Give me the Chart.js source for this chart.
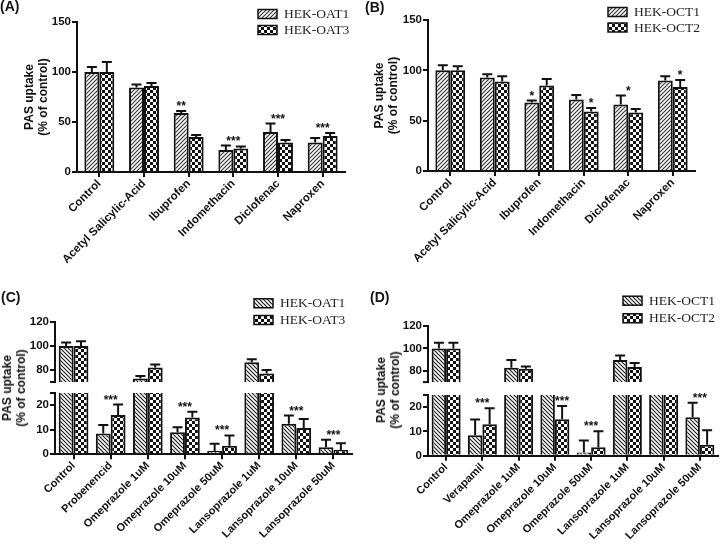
<!DOCTYPE html>
<html>
<head>
<meta charset="utf-8">
<script src="https://cdn.jsdelivr.net/npm/chart.js@4.4.0/dist/chart.umd.min.js"></script>
<style>
html, body { margin: 0; padding: 0; background: #fff; }
#wrap { position: relative; width: 720px; height: 544px; overflow: hidden; font-family: "Liberation Sans", Arial, sans-serif; color: #111; }
#wrap canvas { position: absolute; }
.panel { position: absolute; font-weight: bold; font-size: 14px; line-height: 14px; }
.ytitle { position: absolute; transform: translate(-50%, -50%) rotate(-90deg); font-weight: bold; font-size: 12px; line-height: 14px; text-align: center; white-space: nowrap; }
</style>
</head>
<body>
<div id="wrap">
  <canvas id="chartA" width="360" height="272" style="left:0;top:0"></canvas>
  <canvas id="chartB" width="360" height="272" style="left:360px;top:0"></canvas>
  <canvas id="chartClow" width="360" height="159" style="left:0;top:385px"></canvas>
  <canvas id="chartCup" width="360" height="110" style="left:0;top:280px"></canvas>
  <canvas id="chartDlow" width="360" height="159" style="left:360px;top:385px"></canvas>
  <canvas id="chartDup" width="360" height="110" style="left:360px;top:280px"></canvas>
  <div class="panel" style="left:0;top:-1px">(A)</div>
  <div class="panel" style="left:365px;top:0">(B)</div>
  <div class="panel" style="left:1px;top:290px">(C)</div>
  <div class="panel" style="left:370px;top:290px">(D)</div>
  <div class="ytitle" style="left:14px;top:388px">PAS uptake<br>(% of control)</div>
  <div class="ytitle" style="left:388px;top:390px">PAS uptake<br>(% of control)</div>
</div>
<script>
// ---- data ----
var catsA = ['Control', 'Acetyl Salicylic-Acid', 'Ibuprofen', 'Indomethacin', 'Diclofenac', 'Naproxen'];
var oat1A = [100, 84.5, 59, 22, 40, 29.5];
var oat1ErrA = [5, 3, 2, 4.5, 8.5, 4.5];
var oat3A = [100, 86, 35, 23.5, 29.5, 36];
var oat3ErrA = [10, 3, 2, 2, 2.5, 3];
var sigA = ['', '', '**', '***', '***', '***'];
var sigOverA = [-1, -1, 0, -1, -1, -1];

var catsB = ['Control', 'Acetyl Salicylic-Acid', 'Ibuprofen', 'Indomethacin', 'Diclofenac', 'Naproxen'];
var oct1B = [100, 93, 68, 71, 66, 90];
var oct1ErrB = [5, 3, 2, 4.5, 9, 4];
var oct2B = [100, 89, 85, 59, 58, 83.5];
var oct2ErrB = [4, 5, 6.5, 3.5, 3.5, 7];
var sigB = ['', '', '*', '*', '*', '*'];
var sigOverB = [-1, -1, 0, 1, -1, 1];

var catsC = ['Control', 'Probenencid', 'Omeprazole 1uM', 'Omeprazole 10uM', 'Omeprazole 50uM', 'Lansoprazole 1uM', 'Lansoprazole 10uM', 'Lansoprazole 50uM'];
var oat1C = [100, 8.5, 73, 9, 1.3, 86.5, 12.5, 2.9];
var oat1ErrC = [3, 3.5, 2, 2, 3, 2.5, 3.3, 3];
var oat3C = [100, 16, 82, 15, 3.5, 77, 10.7, 1.8];
var oat3ErrC = [4, 4.3, 2.5, 2.4, 4.2, 3, 3.7, 2.7];
var sigC = ['', '***', '', '***', '***', '', '***', '***'];
var sigOverC = [-1, -1, -1, -1, -1, -1, -1, -1];

var catsD = ['Control', 'Verapamil', 'Omeprazole 1uM', 'Omeprazole 10uM', 'Omeprazole 50uM', 'Lansoprazole 1uM', 'Lansoprazole 10uM', 'Lansoprazole 50uM'];
var oct1D = [100, 8.4, 82.7, 48, 1.3, 89.8, 50, 15.8];
var oct1ErrD = [5, 6.5, 7, 5, 5, 4, 5, 6];
var oct2D = [100, 13, 82, 15, 3.5, 83.4, 50, 4.5];
var oct2ErrD = [5, 6.5, 2, 5.5, 6.6, 3.6, 5, 6];
var sigD = ['', '***', '', '***', '***', '', '', '***'];
var sigOverD = [-1, -1, -1, 1, -1, -1, -1, -1];

var ticksFull = [0, 50, 100, 150];
var ticksUpper = [80, 100, 120];
var ticksLower = [0, 10, 20];

// ---- fills ----
function makeHatch(dir, color) {
  var c = document.createElement('canvas');
  c.width = 4; c.height = 4;
  var x = c.getContext('2d');
  x.fillStyle = '#fff';
  x.fillRect(0, 0, 4, 4);
  x.strokeStyle = color;
  x.lineWidth = 1.2;
  x.beginPath();
  if (dir === '/') {
    x.moveTo(-1, 5); x.lineTo(5, -1);
    x.moveTo(-1, 1); x.lineTo(1, -1);
    x.moveTo(3, 5); x.lineTo(5, 3);
  } else {
    x.moveTo(-1, -1); x.lineTo(5, 5);
    x.moveTo(3, -1); x.lineTo(5, 1);
    x.moveTo(-1, 3); x.lineTo(1, 5);
  }
  x.stroke();
  return x.createPattern(c, 'repeat');
}
function makeChecker() {
  var c = document.createElement('canvas');
  c.width = 6; c.height = 6;
  var x = c.getContext('2d');
  x.fillStyle = '#fff';
  x.fillRect(0, 0, 6, 6);
  x.fillStyle = '#111';
  x.fillRect(0, 0, 3, 3);
  x.fillRect(3, 3, 3, 3);
  return x.createPattern(c, 'repeat');
}
var hatchUp = makeHatch('/', '#3a3a3a');
var hatchDown = makeHatch('\\', '#222');
var checker = makeChecker();

// ---- plugins ----
var errorBars = {
  id: 'errorBars',
  afterDatasetsDraw: function(chart) {
    var ctx = chart.ctx, a = chart.chartArea;
    ctx.save();
    ctx.beginPath();
    ctx.rect(a.left, a.top - 1, a.right - a.left, a.bottom - a.top + 1);
    ctx.clip();
    ctx.strokeStyle = '#111';
    ctx.lineWidth = 2;
    chart.data.datasets.forEach(function(ds, i) {
      var meta = chart.getDatasetMeta(i);
      meta.data.forEach(function(bar, j) {
        var top = meta.yScale.getPixelForValue(ds.data[j] + ds.errors[j]);
        ctx.beginPath();
        ctx.moveTo(bar.x, bar.y);
        ctx.lineTo(bar.x, top);
        ctx.moveTo(bar.x - 5, top);
        ctx.lineTo(bar.x + 5, top);
        ctx.stroke();
      });
    });
    ctx.restore();
  }
};

var sigStars = {
  id: 'sigStars',
  afterDatasetsDraw: function(chart, args, opts) {
    if (!opts || !opts.labels) return;
    var ctx = chart.ctx, d = chart.data.datasets;
    var m0 = chart.getDatasetMeta(0), m1 = chart.getDatasetMeta(1);
    ctx.save();
    ctx.font = 'bold 12px "Liberation Sans", Arial, sans-serif';
    ctx.fillStyle = '#111';
    ctx.textAlign = 'center';
    ctx.textBaseline = 'alphabetic';
    opts.labels.forEach(function(s, j) {
      if (!s) return;
      var t0 = d[0].data[j] + d[0].errors[j], t1 = d[1].data[j] + d[1].errors[j];
      var x, v;
      if (opts.over[j] === 0) { x = m0.data[j].x; v = t0; }
      else if (opts.over[j] === 1) { x = m1.data[j].x; v = t1; }
      else { x = (m0.data[j].x + m1.data[j].x) / 2; v = Math.max(t0, t1); }
      ctx.fillText(s, x, m0.yScale.getPixelForValue(v) - 1);
    });
    ctx.restore();
  }
};

var sideLegend = {
  id: 'sideLegend',
  afterDraw: function(chart, args, opts) {
    if (!opts || opts.x === undefined) return;
    var ctx = chart.ctx;
    ctx.save();
    ctx.font = '13.5px "Liberation Serif", "Times New Roman", serif';
    ctx.textBaseline = 'middle';
    chart.data.datasets.forEach(function(ds, i) {
      var y = opts.y + i * opts.gap;
      ctx.fillStyle = ds.backgroundColor;
      ctx.fillRect(opts.x, y - 4.5, 19, 9);
      ctx.strokeStyle = '#111';
      ctx.lineWidth = 1.5;
      ctx.strokeRect(opts.x, y - 4.5, 19, 9);
      ctx.fillStyle = '#222';
      ctx.fillText(ds.label, opts.x + 26, y + 0.5);
    });
    ctx.restore();
  }
};

var axisBreak = {
  id: 'axisBreak',
  afterDraw: function(chart, args, opts) {
    if (!opts || !opts.edge) return;
    var ctx = chart.ctx, a = chart.chartArea;
    var y = opts.edge === 'bottom' ? a.bottom : a.top;
    ctx.save();
    ctx.strokeStyle = '#111';
    ctx.lineWidth = 2;
    ctx.beginPath();
    ctx.moveTo(a.left - 5, y);
    ctx.lineTo(a.left + 1, y);
    ctx.stroke();
    ctx.restore();
  }
};

Chart.defaults.font.family = '"Liberation Sans", Arial, sans-serif';
Chart.defaults.color = '#111';

function barChart(id, cats, s1, s2, cfg) {
  var ds = function(s) {
    return {
      label: s.label, data: s.data, errors: s.err,
      backgroundColor: s.fill, borderColor: '#111', borderWidth: 2,
      borderSkipped: 'start', barPercentage: 1, categoryPercentage: cfg.cat
    };
  };
  return new Chart(document.getElementById(id), {
    type: 'bar',
    data: { labels: cats, datasets: [ds(s1), ds(s2)] },
    options: {
      responsive: false,
      animation: false,
      layout: { padding: cfg.pad },
      plugins: {
        legend: { display: false },
        tooltip: { enabled: false },
        sideLegend: cfg.legend || {},
        sigStars: cfg.stars || {},
        axisBreak: cfg.brk || {}
      },
      scales: {
        x: {
          display: cfg.showX,
          grid: { offset: false, drawOnChartArea: false, drawTicks: true, tickLength: 5, color: '#111', lineWidth: 2 },
          border: { display: true, color: '#111', width: 2 },
          ticks: { color: '#111', font: { weight: 'bold', size: cfg.xFont || 11.5 }, minRotation: 45, maxRotation: 45, padding: 0, autoSkip: false },
          afterFit: function(s) { s.height = cfg.xH; }
        },
        y: {
          min: cfg.min, max: cfg.max,
          afterBuildTicks: function(s) { s.ticks = cfg.ticks.map(function(v) { return { value: v }; }); },
          afterFit: function(s) { s.width = cfg.yW; },
          grid: { drawOnChartArea: false, drawTicks: true, tickLength: 5, color: '#111', lineWidth: 2 },
          border: { display: true, color: '#111', width: 2 },
          ticks: { color: '#111', font: { weight: 'bold', size: 11.5 }, padding: 1 },
          title: cfg.titlePad === undefined ? { display: false } : {
            display: true, text: ['PAS uptake', '(% of control)'], color: '#111',
            font: { weight: 'bold', size: 12, lineHeight: 1.17 },
            padding: { top: cfg.titlePad, bottom: 0 }
          }
        }
      }
    },
    plugins: [errorBars, sigStars, sideLegend, axisBreak]
  });
}

// (A)
barChart('chartA', catsA,
  { label: 'HEK-OAT1', data: oat1A, err: oat1ErrA, fill: hatchUp },
  { label: 'HEK-OAT3', data: oat3A, err: oat3ErrA, fill: checker },
  { cat: 0.67, pad: { left: 0, top: 22, right: 15, bottom: 0 }, yW: 77, xH: 100, showX: true,
    min: 0, max: 150, ticks: ticksFull, titlePad: 23,
    legend: { x: 258, y: 14, gap: 16 }, stars: { labels: sigA, over: sigOverA } });

// (B)
barChart('chartB', catsB,
  { label: 'HEK-OCT1', data: oct1B, err: oct1ErrB, fill: hatchUp },
  { label: 'HEK-OCT2', data: oct2B, err: oct2ErrB, fill: checker },
  { cat: 0.67, pad: { left: 0, top: 20, right: 25, bottom: 0 }, yW: 68, xH: 101, showX: true,
    min: 0, max: 150, ticks: ticksFull, titlePad: 13,
    legend: { x: 248, y: 12, gap: 15.5 }, stars: { labels: sigB, over: sigOverB } });

// (C) upper / lower
barChart('chartCup', catsC,
  { label: 'HEK-OAT1', data: oat1C, err: oat1ErrC, fill: hatchDown },
  { label: 'HEK-OAT3', data: oat3C, err: oat3ErrC, fill: checker },
  { cat: 0.8, pad: { left: 0, top: 42, right: 8, bottom: 8 }, yW: 55, xH: 0, showX: false,
    min: 70, max: 120, ticks: ticksUpper,
    legend: { x: 254, y: 23.3, gap: 16.7 }, brk: { edge: 'bottom' } });
barChart('chartClow', catsC,
  { label: 'HEK-OAT1', data: oat1C, err: oat1ErrC, fill: hatchDown },
  { label: 'HEK-OAT3', data: oat3C, err: oat3ErrC, fill: checker },
  { cat: 0.8, pad: { left: 0, top: 8, right: 8, bottom: 0 }, yW: 55, xH: 89.7, showX: true, xFont: 11,
    min: 0, max: 25, ticks: ticksLower,
    stars: { labels: sigC, over: sigOverC }, brk: { edge: 'top' } });

// (D) upper / lower
barChart('chartDup', catsD,
  { label: 'HEK-OCT1', data: oct1D, err: oct1ErrD, fill: hatchDown },
  { label: 'HEK-OCT2', data: oct2D, err: oct2ErrD, fill: checker },
  { cat: 0.8, pad: { left: 0, top: 46, right: 2, bottom: 5 }, yW: 68, xH: 0, showX: false,
    min: 70, max: 120, ticks: ticksUpper,
    legend: { x: 263, y: 20.7, gap: 17.6 }, brk: { edge: 'bottom' } });
barChart('chartDlow', catsD,
  { label: 'HEK-OCT1', data: oct1D, err: oct1ErrD, fill: hatchDown },
  { label: 'HEK-OCT2', data: oct2D, err: oct2ErrD, fill: checker },
  { cat: 0.8, pad: { left: 0, top: 10, right: 2, bottom: 0 }, yW: 68, xH: 88.3, showX: true, xFont: 11,
    min: 0, max: 25, ticks: ticksLower,
    stars: { labels: sigD, over: sigOverD }, brk: { edge: 'top' } });
</script>
</body>
</html>
